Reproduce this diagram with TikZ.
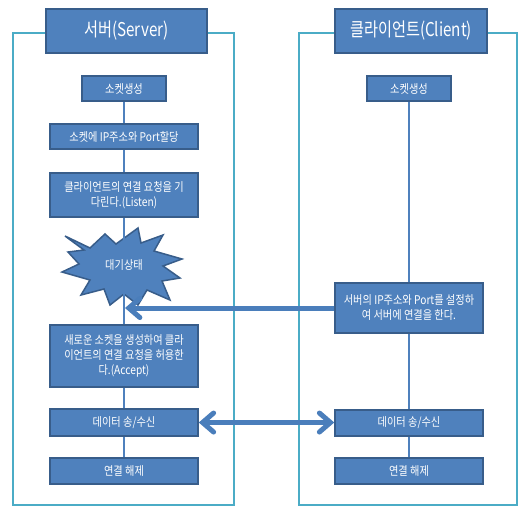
\documentclass[tikz,border=0pt]{standalone}
\usepackage{fontspec}
\newfontfamily\cjk[FakeStretch=0.85]{Noto Sans CJK KR}
\newfontfamily\cjktitle[FakeStretch=0.8]{Noto Sans CJK KR}
\usetikzlibrary{arrows.meta}
\definecolor{boxfill}{HTML}{4F81BD}
\definecolor{boxline}{HTML}{385D8A}
\definecolor{frame}{HTML}{4BACC6}
\definecolor{arrowc}{HTML}{4A7EBB}
\tikzset{
  stepbox/.style={draw=boxline, line width=1.5pt, fill=boxfill, text=white,
    inner sep=0pt, align=center, font=\cjk\fontsize{12}{15}\selectfont},
  titlebox/.style={draw=boxline, line width=1.5pt, fill=boxfill, text=white,
    inner sep=0pt, font=\cjktitle\fontsize{19}{22}\selectfont},
  framebox/.style={draw=frame, line width=2pt},
  conn/.style={draw=boxfill, line width=1.5pt},
  bigarrow/.style={draw=arrowc, line width=5pt,
    -{Straight Barb[length=11pt,width=19pt,line cap=round]}},
  bigdarrow/.style={draw=arrowc, line width=5pt,
    {Straight Barb[length=11pt,width=19pt,line cap=round]}-{Straight Barb[length=11pt,width=19pt,line cap=round]}},
}
\begin{document}
\begin{tikzpicture}[x=1pt,y=-1pt]
\useasboundingbox[fill=white] (0,0) rectangle (519,507);
% frames
\draw[framebox] (13,33) rectangle (234,505);
\draw[framebox] (299,33) rectangle (517,505);
% titles
\node[titlebox, minimum width=161pt, minimum height=44pt] (st) at (126.5,31) {서버(Server)};
\node[titlebox, minimum width=152pt, minimum height=44pt] (ct) at (411,31) {클라이언트(Client)};
% star
\draw[draw=boxline, line width=1.5pt, fill=boxfill]
  (65,236) -- (90,248) -- (105,234) -- (116,244) -- (138,228) -- (141,243)
  -- (163,235) -- (154,251) -- (182,259) -- (163,266) -- (180,278) -- (162,281)
  -- (170,300) -- (147,290) -- (138,305) -- (124,294) -- (110,305) -- (104,289)
  -- (81,295) -- (90,280) -- (62,272) -- (79,264) -- (68,252) -- (84,250) -- cycle;
% server boxes
\node[stepbox, minimum width=84pt, minimum height=25pt] (s1) at (124,88.5) {소켓생성};
\node[stepbox, minimum width=148pt, minimum height=25pt] (s2) at (124,136.5) {소켓에 IP주소와 Port할당};
\node[stepbox, minimum width=148pt, minimum height=44pt] (s3) at (124,195) {클라이언트의 연결 요청을 기\\다린다.(Listen)};
\node[stepbox, minimum width=148pt, minimum height=62pt] (s4) at (124,356) {새로운 소켓을 생성하여 클라\\이언트의 연결 요청을 허용한\\다.(Accept)};
\node[stepbox, minimum width=148pt, minimum height=27pt] (s5) at (124,422.5) {데이터 송/수신};
\node[stepbox, minimum width=148pt, minimum height=26pt] (s6) at (124,471) {연결 해제};
% client boxes
\node[stepbox, minimum width=84pt, minimum height=25pt] (c1) at (409,88.5) {소켓생성};
\node[stepbox, minimum width=148pt, minimum height=50pt] (c2) at (409,308) {서버의 IP주소와 Port를 설정하\\여 서버에 연결을 한다.};
\node[stepbox, minimum width=148pt, minimum height=26pt] (c3) at (409,423) {데이터 송/수신};
\node[stepbox, minimum width=148pt, minimum height=26pt] (c4) at (409,471) {연결 해제};
% connectors
\draw[conn] (s1) -- (s2);
\draw[conn] (s2) -- (s3);
\draw[conn] (s3.south) -- (s4.north);
\draw[conn] (s4) -- (s5);
\draw[conn] (s5) -- (s6);
\draw[conn] (c1) -- (c2);
\draw[conn] (c2) -- (c3);
\draw[conn] (c3) -- (c4);
% star label
\node[text=white, font=\cjk\fontsize{12}{15}\selectfont] (star) at (124,265) {대기상태};
% arrows
\coordinate (tipA) at (125,308);
\draw[bigarrow] (c2.west) -- (tipA);
\draw[bigdarrow] (s5.east) -- (s5.east -| c3.west);
\end{tikzpicture}
\end{document}
